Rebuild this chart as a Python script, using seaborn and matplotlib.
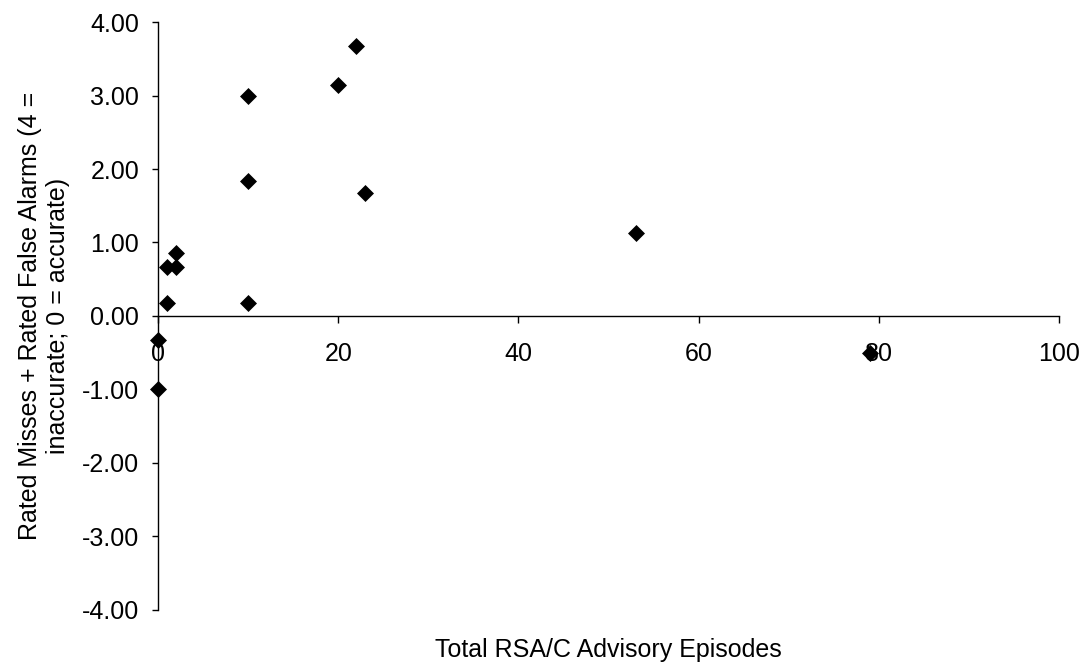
import matplotlib
matplotlib.use('Agg')
import matplotlib.pyplot as plt
import seaborn as sns
import pandas as pd

# Data
episodes = [22, 20, 10, 10, 23, 2, 1, 2, 1, 10, 53, 0, 0, 79]
rated_score = [3.67, 3.14, 3.0, 1.83, 1.67, 0.86, 0.67, 0.67, 0.17, 0.17, 1.13, -0.33, -1.0, -0.5]
x_ticks = [0, 20, 40, 60, 80, 100]
y_ticks = [-4, -3, -2, -1, 0, 1, 2, 3, 4]

df = pd.DataFrame({'episodes': episodes, 'score': rated_score})

sns.set_style('white')
plt.rcParams['font.family'] = ['Liberation Sans', 'DejaVu Sans']
plt.rcParams['axes.labelcolor'] = 'black'
plt.rcParams['text.color'] = 'black'

fig = plt.figure(figsize=(10.86, 6.67), dpi=100)
ax = fig.add_axes([0.1455, 0.0855, 0.8296, 0.8815])

# clip_on=False so the points sitting on x=0 show as full diamonds
sns.scatterplot(data=df, x='episodes', y='score', marker='D', color='black',
                s=75, edgecolor='black', linewidth=0, ax=ax, legend=False,
                clip_on=False, zorder=3)

ax.set_xlim(0, 100)
ax.set_ylim(-4, 4)
ax.set_xticks(x_ticks)
ax.set_yticks(y_ticks)
ax.set_yticklabels([f'{v:.2f}' for v in y_ticks])

# spines crossing at the origin, like the original Excel chart
ax.spines['left'].set_position(('data', 0))
ax.spines['bottom'].set_position(('data', 0))
ax.spines['top'].set_visible(False)
ax.spines['right'].set_visible(False)
for side in ['left', 'bottom']:
    ax.spines[side].set_color('black')
    ax.spines[side].set_linewidth(1.0)

ax.tick_params(axis='x', direction='out', length=5, width=1.0, pad=14,
               labelsize=18, colors='black', bottom=True)
ax.tick_params(axis='y', direction='out', length=4.5, width=1.0, pad=9,
               labelsize=18, colors='black', left=True)

ax.set_xlabel('Total RSA/C Advisory Episodes', fontsize=18, color='black')
ax.xaxis.set_label_coords(0.5, -0.048)
ax.set_ylabel('Rated Misses + Rated False Alarms (4 =\ninaccurate; 0 = accurate)',
              fontsize=18, color='black')
ax.yaxis.set_label_coords(-0.098, 0.5)

fig.savefig('out.png', dpi=100)
